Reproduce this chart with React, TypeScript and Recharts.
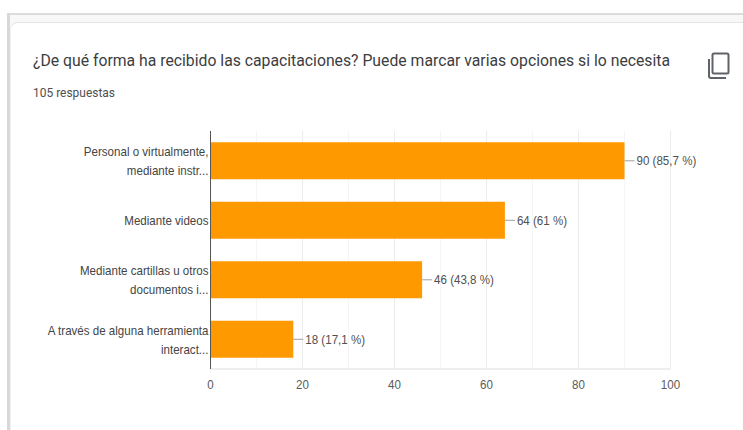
import { BarChart, Bar, XAxis, YAxis, CartesianGrid, LabelList } from 'recharts';

const categories = [
  ['Personal o virtualmente,', 'mediante instr...'],
  ['Mediante videos'],
  ['Mediante cartillas u otros', 'documentos i...'],
  ['A través de alguna herramienta', 'interact...'],
];
const counts = [90, 64, 46, 18];
const percents = ['85,7 %', '61 %', '43,8 %', '17,1 %'];
const majorTicks = [0, 20, 40, 60, 80, 100];
const minorTicks = [10, 30, 50, 70, 90];
const allTicks = [0, 10, 20, 30, 40, 50, 60, 70, 80, 90, 100];

const chartData = counts.map((c, i) => ({
  name: String(i),
  value: c,
  label: `${c} (${percents[i]})`,
}));

const font = '"Liberation Sans", Arial, sans-serif';

// the reference is a screenshot squeezed sideways, so text is narrower than its height
const squeeze = 0.89;
const squeezeAt = (x: number) => `translate(${x} 0) scale(${squeeze} 1) translate(${-x} 0)`;

function CategoryTick({ x, y, payload }: any) {
  const lines: string[] = categories[Number(payload.value)];
  const start = lines.length === 1 ? 4.5 : -4.5;
  const right = x + 6;
  return (
    <text x={right} y={y + start} transform={squeezeAt(right)} textAnchor="end" fontFamily={font} fontSize={13} fill="#444">
      {lines.map((l, i) => (
        <tspan key={l} x={right} dy={i === 0 ? 0 : 19}>{l}</tspan>
      ))}
    </text>
  );
}

function ValueTick({ x, y, payload }: any) {
  if (!majorTicks.includes(payload.value)) return null;
  return (
    <text x={x} y={y + 12} transform={squeezeAt(x)} textAnchor="middle" fontFamily={font} fontSize={13} fill="#5a5a5a">
      {payload.value}
    </text>
  );
}

function BarValueLabel({ x, y, width, height, value }: any) {
  const end = x + width;
  const mid = y + height / 2;
  return (
    <g>
      <line x1={end} x2={end + 10} y1={mid} y2={mid} stroke="#a0a0a0" />
      <text x={end + 12} y={mid + 4.5} transform={squeezeAt(end + 12)} fontFamily={font} fontSize={13} fill="#505050">{value}</text>
    </g>
  );
}

export default function App() {
  return (
    <div style={{ position: 'absolute', left: 0, top: 0, width: 743, height: 430, background: '#fff', overflow: 'hidden' }}>
      {/* outer frame of the forms card */}
      <div style={{ position: 'absolute', left: 7, top: 13, width: 736, height: 2, background: '#dcdcdc' }} />
      <div style={{ position: 'absolute', left: 7, top: 13, width: 3, height: 417, background: '#d8d8d8' }} />
      <div style={{ position: 'absolute', left: 10, top: 15, width: 733, height: 415, background: '#f8f8f8' }} />
      <div style={{ position: 'absolute', left: 10, top: 22, width: 733, height: 408, background: '#fff', borderTop: '1px solid #e4e4e4', borderLeft: '1px solid #f0f0f0', borderTopLeftRadius: 8, boxSizing: 'border-box' }} />

      <div style={{ position: 'absolute', left: 33, top: 51, fontFamily: 'Roboto, sans-serif', fontSize: 16.5, lineHeight: '20px', color: '#3c3d41', whiteSpace: 'nowrap', transform: 'scaleX(0.955)', transformOrigin: 'left' }}>
        ¿De qué forma ha recibido las capacitaciones? Puede marcar varias opciones si lo necesita
      </div>
      <div style={{ position: 'absolute', left: 33, top: 85, fontFamily: 'Roboto, sans-serif', fontSize: 13, lineHeight: '16px', color: '#505050', whiteSpace: 'nowrap', transform: 'scaleX(0.92)', transformOrigin: 'left' }}>
        105 respuestas
      </div>

      <svg style={{ position: 'absolute', left: 706, top: 50 }} width={24} height={30} viewBox="0 0 24 30">
        <path d="M8 3.5 h13 a1.5 1.5 0 0 1 1.5 1.5 v17 a1.5 1.5 0 0 1 -1.5 1.5 h-13 a1.5 1.5 0 0 1 -1.5 -1.5 v-17 a1.5 1.5 0 0 1 1.5 -1.5 z" fill="none" stroke="#5f6368" strokeWidth={2} />
        <path d="M3 9 v17 a2 2 0 0 0 2 2 h15" fill="none" stroke="#5f6368" strokeWidth={2} />
      </svg>

      <div style={{ position: 'absolute', left: 0, top: 0 }}>
        <BarChart
          width={743}
          height={430}
          layout="vertical"
          data={chartData}
          barCategoryGap="19%"
          margin={{ top: 131, right: 72.5, left: 0, bottom: 31 }}
        >
          <CartesianGrid horizontal={false} verticalValues={minorTicks} stroke="#f5f5f5" />
          <CartesianGrid horizontal={false} verticalValues={majorTicks.slice(1)} stroke="#ececec" />
          <XAxis
            type="number"
            domain={[0, 100]}
            ticks={allTicks}
            interval={0}
            height={30}
            axisLine={{ stroke: '#eeeeee', strokeWidth: 2 }}
            tickLine={false}
            tick={<ValueTick />}
          />
          <YAxis
            type="category"
            dataKey="name"
            width={210.5}
            axisLine={{ stroke: '#555' }}
            tickLine={false}
            interval={0}
            tick={<CategoryTick />}
          />
          <Bar dataKey="value" fill="#ff9900" isAnimationActive={false}>
            <LabelList dataKey="label" content={<BarValueLabel />} />
          </Bar>
        </BarChart>
      </div>
    </div>
  );
}
